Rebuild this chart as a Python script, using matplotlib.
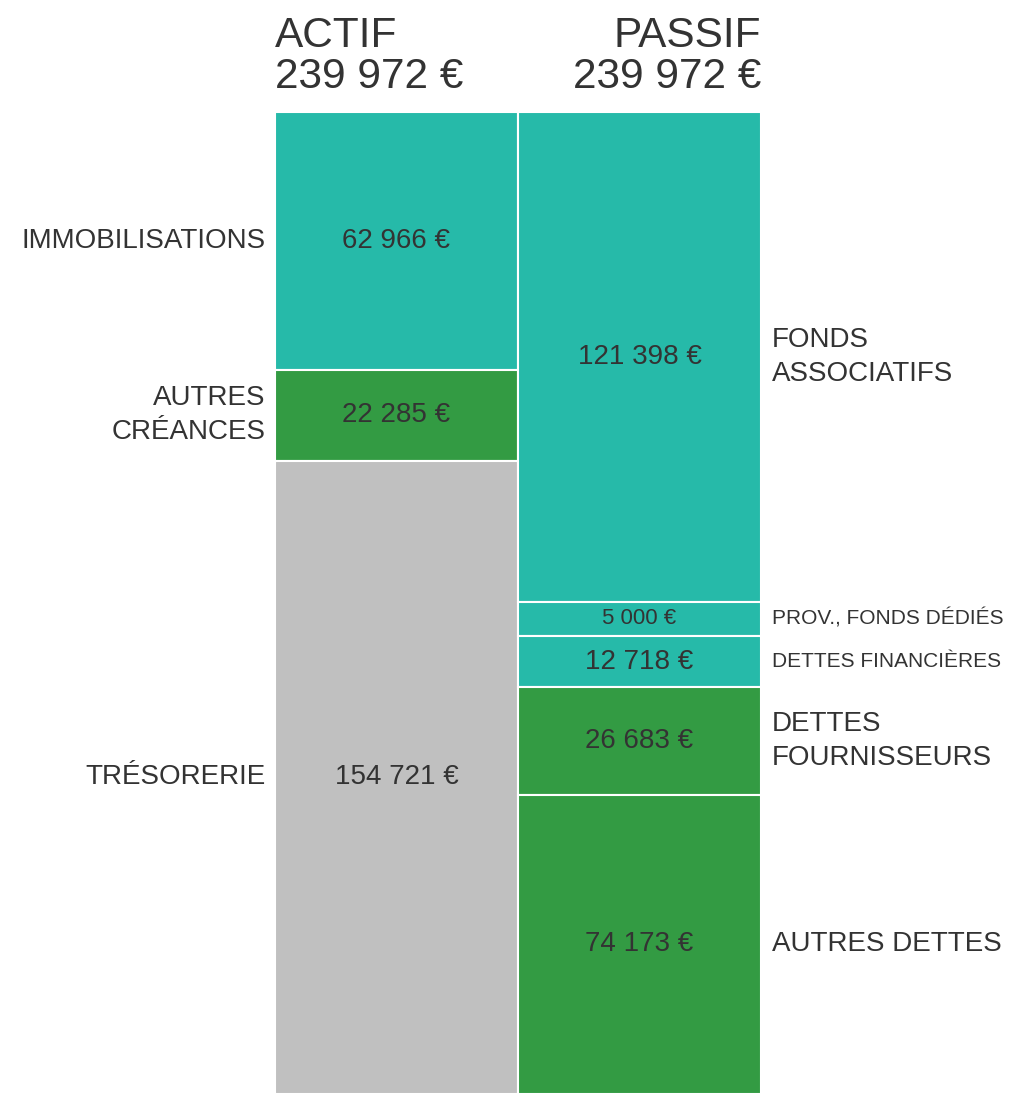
import matplotlib.pyplot as plt

plt.rcParams["font.family"] = ["Liberation Sans", "DejaVu Sans"]

TEAL = "#26baa9"
GREEN = "#339b43"
GREY = "#c0c0c0"
TEXT = "#333333"

# Actif side (top to bottom)
actif_labels = ["IMMOBILISATIONS", "AUTRES\nCRÉANCES", "TRÉSORERIE"]
actif_values = [62966, 22285, 154721]
actif_colors = [TEAL, GREEN, GREY]

# Passif side (top to bottom)
passif_labels = ["FONDS\nASSOCIATIFS", "PROV., FONDS DÉDIÉS", "DETTES FINANCIÈRES",
                 "DETTES\nFOURNISSEURS", "AUTRES DETTES"]
passif_values = [121398, 5000, 12718, 26683, 74173]
passif_colors = [TEAL, TEAL, TEAL, GREEN, GREEN]

MIN_SHARE = 0.0348  # tiny segments get a minimum height so the label fits


def euro(v):
    return f"{v:,}".replace(",", " ") + " €"


def display_heights(values):
    total = sum(values)
    floor = MIN_SHARE * total
    small = [v < floor for v in values]
    rest = total - floor * sum(small)
    big_total = sum(v for v, s in zip(values, small) if not s)
    return [floor if s else v * rest / big_total for v, s in zip(values, small)]


fig = plt.figure(figsize=(10.2, 10.94), dpi=100)
ax = fig.add_axes([275 / 1020, 0, 486 / 1020, 982 / 1094])

total = sum(actif_values)


def draw_column(x, labels, values, colors, side):
    heights = display_heights(values)
    bottom = 0
    for lab, val, h, col in zip(labels, values, heights, colors):
        sm = val < MIN_SHARE * sum(values)
        ax.bar(x, h, width=1, bottom=bottom, align="edge", color=col,
               edgecolor="white", linewidth=1.5)
        mid = bottom + h / 2
        ax.text(x + 0.5, mid, euro(val), ha="center", va="center",
                fontsize=16 if sm else 20, color=TEXT)
        if side == "left":
            ax.text(x - 0.04, mid, lab, ha="right", va="center",
                    fontsize=20, color=TEXT, linespacing=1.4, clip_on=False)
        else:
            small_lab = "\n" not in lab and len(lab) > 15
            ax.text(x + 1.045, mid, lab, ha="left", va="center",
                    fontsize=15 if small_lab else 20, color=TEXT,
                    linespacing=1.4, clip_on=False)
        bottom += h


draw_column(0, actif_labels, actif_values, actif_colors, "left")
draw_column(1, passif_labels, passif_values, passif_colors, "right")

ax.set_xlim(0, 2)
ax.set_ylim(total, 0)
ax.axis("off")

fig.text(275 / 1020, 1 - 47 / 1094, "ACTIF", ha="left", va="baseline",
         fontsize=30.5, color=TEXT)
fig.text(275 / 1020, 1 - 88 / 1094, euro(sum(actif_values)), ha="left",
         va="baseline", fontsize=30.5, color=TEXT)
fig.text(761 / 1020, 1 - 47 / 1094, "PASSIF", ha="right", va="baseline",
         fontsize=30.5, color=TEXT)
fig.text(761 / 1020, 1 - 88 / 1094, euro(sum(passif_values)), ha="right",
         va="baseline", fontsize=30.5, color=TEXT)

fig.savefig("out.png", dpi=100)
